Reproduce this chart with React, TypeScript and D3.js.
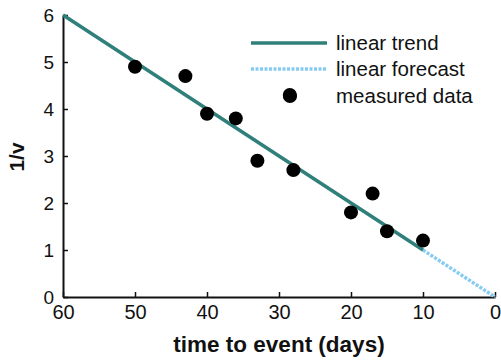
import * as d3 from "d3";
import React, { useEffect, useRef } from "react";

// measured points: days before event, 1/v
const days = [50, 43, 40, 36, 33, 28.5, 28, 20, 17, 15, 10];
const invV = [4.9, 4.7, 3.9, 3.8, 2.9, 4.3, 2.7, 1.8, 2.2, 1.4, 1.2];

const trendDays = [60, 10];
const trendVals = [6, 1];
const forecastDays = [10, 0];
const forecastVals = [1, 0];

const xTicks = [60, 50, 40, 30, 20, 10, 0];
const yTicks = [0, 1, 2, 3, 4, 5, 6];

const legendLabels = ["linear trend", "linear forecast", "measured data"];

const trendColor = "#2f7f7a";
const forecastColor = "#86cbf2";

const App: React.FC = () => {
  const ref = useRef<SVGSVGElement>(null);

  useEffect(() => {
    const width = 501;
    const height = 360;
    const marginLeft = 63;
    const marginRight = 6;
    const marginTop = 15;
    const marginBottom = 63;

    const svg = d3.select(ref.current);
    svg.selectAll("*").remove();

    const x = d3.scaleLinear()
      .domain([60, 0])
      .range([marginLeft, width - marginRight]);

    const y = d3.scaleLinear()
      .domain([0, 6])
      .range([height - marginBottom, marginTop]);

    const font = "Liberation Sans, Arial, sans-serif";

    // x axis
    const gx = svg.append("g")
      .attr("transform", `translate(0,${height - marginBottom})`)
      .call(d3.axisBottom(x).tickValues(xTicks).tickFormat(d3.format("d")).tickSizeInner(-5).tickSizeOuter(0).tickPadding(8));
    gx.select(".domain").attr("stroke", "#111").attr("stroke-width", 2);
    gx.selectAll(".tick line").attr("stroke", "#111").attr("stroke-width", 1.5);
    gx.selectAll(".tick text")
      .attr("fill", "#111")
      .attr("font-family", font)
      .attr("font-size", 20);

    // y axis
    const gy = svg.append("g")
      .attr("transform", `translate(${marginLeft},0)`)
      .call(d3.axisLeft(y).tickValues(yTicks).tickFormat(d3.format("d")).tickSizeInner(-5).tickSizeOuter(0).tickPadding(9));
    gy.select(".domain").attr("stroke", "#111").attr("stroke-width", 2);
    gy.selectAll(".tick line").attr("stroke", "#111").attr("stroke-width", 1.5);
    gy.selectAll(".tick text")
      .attr("fill", "#111")
      .attr("font-family", font)
      .attr("font-size", 19);

    const line = d3.line<[number, number]>()
      .x(d => x(d[0]))
      .y(d => y(d[1]));

    svg.append("path")
      .attr("fill", "none")
      .attr("stroke", forecastColor)
      .attr("stroke-width", 3.5)
      .attr("stroke-dasharray", "3,1.5")
      .attr("d", line(d3.zip(forecastDays, forecastVals) as [number, number][]));

    svg.append("path")
      .attr("fill", "none")
      .attr("stroke", trendColor)
      .attr("stroke-width", 3.5)
      .attr("d", line(d3.zip(trendDays, trendVals) as [number, number][]));

    svg.append("g")
      .selectAll("circle")
      .data(d3.zip(days, invV))
      .join("circle")
      .attr("cx", d => x(d[0]))
      .attr("cy", d => y(d[1]))
      .attr("r", 7)
      .attr("fill", "#000");

    // legend
    const legend = svg.append("g")
      .attr("font-family", font)
      .attr("font-size", 20.5)
      .attr("fill", "#111");
    const rowY = [43, 69, 96];
    legend.append("line")
      .attr("x1", 251).attr("x2", 327)
      .attr("y1", rowY[0]).attr("y2", rowY[0])
      .attr("stroke", trendColor).attr("stroke-width", 3.5);
    legend.append("line")
      .attr("x1", 251).attr("x2", 327)
      .attr("y1", rowY[1]).attr("y2", rowY[1])
      .attr("stroke", forecastColor).attr("stroke-width", 3.5)
      .attr("stroke-dasharray", "3,1.5");
    legend.append("circle")
      .attr("cx", 290).attr("cy", rowY[2]).attr("r", 7).attr("fill", "#000");
    legend.selectAll("text")
      .data(legendLabels)
      .join("text")
      .attr("x", 336)
      .attr("y", (_, i) => rowY[i])
      .attr("dy", "0.35em")
      .text(d => d);

    // axis titles
    svg.append("text")
      .attr("x", 279)
      .attr("y", 352)
      .attr("text-anchor", "middle")
      .attr("font-family", font)
      .attr("font-weight", "bold")
      .attr("font-size", 22.5)
      .attr("fill", "#111")
      .text("time to event (days)");

    svg.append("text")
      .attr("transform", "translate(24,157) rotate(-90)")
      .attr("text-anchor", "middle")
      .attr("font-family", font)
      .attr("font-weight", "bold")
      .attr("font-size", 21)
      .attr("fill", "#111")
      .text("1/v");
  }, []);

  return (
    <svg
      ref={ref}
      width={501}
      height={360}
      viewBox="0 0 501 360"
      style={{ position: "absolute", left: 0, top: 0, background: "#fff" }}
    />
  );
};

export default App;
